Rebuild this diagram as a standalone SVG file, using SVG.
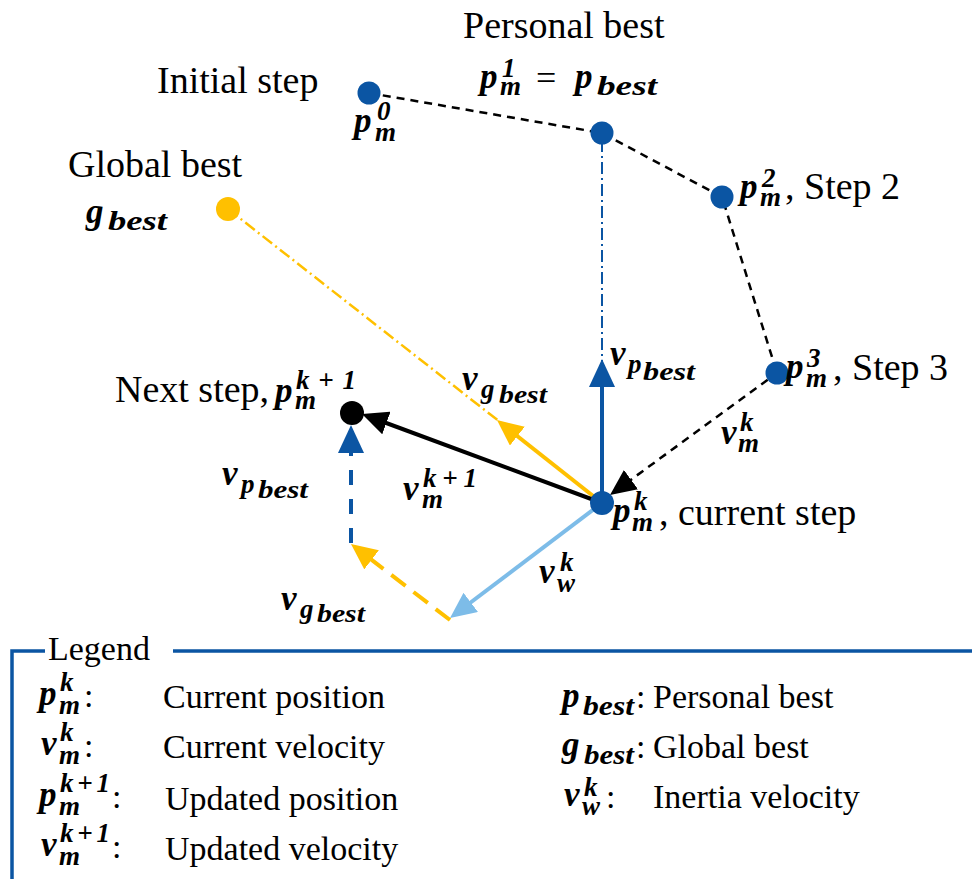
<svg xmlns="http://www.w3.org/2000/svg" width="972" height="879" viewBox="0 0 972 879">
  <style>
    .lbl { font-family: "Liberation Serif", "Times New Roman", serif; font-size: 38px; fill: #000; }
    .leg { font-family: "Liberation Serif", "Times New Roman", serif; font-size: 34px; fill: #000; }
    .mv { font-family: "Liberation Serif", "Times New Roman", serif; font-style: italic; font-weight: bold; font-size: 35px; fill: #000; }
    .ms { font-family: "Liberation Serif", "Times New Roman", serif; font-style: italic; font-weight: bold; font-size: 27px; fill: #000; }
    .mss { font-family: "Liberation Serif", "Times New Roman", serif; font-style: italic; font-weight: bold; font-size: 25px; fill: #000; }
    .meq { font-family: "Liberation Serif", "Times New Roman", serif; font-size: 36px; fill: #000; }
    .dot-blue { fill: #0B55A3; }
    .dot-gold { fill: #FFC000; }
    .dot-black { fill: #000; }
    .path-step { fill: none; stroke: #000; stroke-width: 2.5; stroke-dasharray: 8 6; }
    .guide-blue { fill: none; stroke: #0B55A3; stroke-width: 2; stroke-dasharray: 12 4 2 4; }
    .guide-gold { fill: none; stroke: #FFC000; stroke-width: 2.5; stroke-dasharray: 12 4 2 4; }
    .vec { fill: none; stroke-width: 4; }
    .blue { stroke: #0B55A3; }
    .gold { stroke: #FFC000; }
    .black { stroke: #000; }
    .light { stroke: #7DBCE8; }
    .frame { fill: none; stroke: #0B55A3; stroke-width: 3.5; }
  </style>
  <defs>
    <marker id="ah-blue" markerUnits="userSpaceOnUse" markerWidth="28" markerHeight="26" refX="18" refY="13" orient="auto">
      <path d="M0,0 L28,13 L0,26 z" fill="#0B55A3"/>
    </marker>
    <marker id="ah-gold" markerUnits="userSpaceOnUse" markerWidth="26" markerHeight="24" refX="16" refY="12" orient="auto">
      <path d="M0,0 L26,12 L0,24 z" fill="#FFC000"/>
    </marker>
    <marker id="ah-black" markerUnits="userSpaceOnUse" markerWidth="26" markerHeight="24" refX="16" refY="12" orient="auto">
      <path d="M0,0 L26,12 L0,24 z" fill="#000"/>
    </marker>
    <marker id="ah-light" markerUnits="userSpaceOnUse" markerWidth="26" markerHeight="24" refX="16" refY="12" orient="auto">
      <path d="M0,0 L26,12 L0,24 z" fill="#7DBCE8"/>
    </marker>
  </defs>

  <rect width="972" height="879" fill="#fff"/>

  <!-- connectors: trajectory, guide lines and velocity vectors -->
  <g id="connectors">
    <polyline class="path-step" points="369,93 602,133 722,197 777,373"/>
    <line class="guide-blue" x1="602" y1="140" x2="602" y2="362"/>
    <line class="guide-gold" x1="228" y1="209" x2="500" y2="422"/>
    <line class="vec blue" x1="602" y1="503" x2="602" y2="369" marker-end="url(#ah-blue)"/>
    <line class="vec gold" x1="602" y1="503" x2="504.8" y2="426.2" marker-end="url(#ah-gold)"/>
    <line class="vec black" x1="602" y1="503" x2="371.4" y2="417.5" marker-end="url(#ah-black)"/>
    <line class="black" stroke-width="2.5" stroke-dasharray="8 6" x1="767.7" y1="379.8" x2="618.1" y2="489.1" marker-end="url(#ah-black)"/>
    <line class="vec light" x1="602" y1="503" x2="458" y2="612" marker-end="url(#ah-light)"/>
    <line class="vec gold" stroke-width="4.5" stroke-dasharray="18 10" x1="450" y1="620" x2="358.9" y2="550.1" marker-end="url(#ah-gold)"/>
    <line class="vec blue" stroke-dasharray="15 14" x1="351" y1="543" x2="351" y2="435" marker-end="url(#ah-blue)"/>
  </g>

  <!-- velocity labels -->
  <g id="labels">
    <g id="lbl-vpbest-right">
      <text class="mv" x="610" y="365">v</text><text class="ms" x="628" y="373">p</text><text class="mss" x="643" y="380" textLength="52" lengthAdjust="spacingAndGlyphs">best</text>
    </g>
    <g id="lbl-vgbest-mid">
      <text class="mv" x="462" y="390">v</text><text class="ms" x="481" y="398">g</text><text class="mss" x="499" y="403" textLength="48" lengthAdjust="spacingAndGlyphs">best</text>
    </g>
    <g id="lbl-vmk">
      <text class="mv" x="721" y="444">v</text><text class="ms" x="740" y="431">k</text><text class="ms" x="738" y="452">m</text>
    </g>
    <g id="lbl-vmk1">
      <text class="mv" x="403" y="500">v</text><text class="ms" x="423" y="487" textLength="54" lengthAdjust="spacing">k+1</text><text class="ms" x="422" y="508">m</text>
    </g>
    <g id="lbl-vpbest-left">
      <text class="mv" x="222" y="485">v</text><text class="ms" x="241" y="493">p</text><text class="mss" x="258" y="498" textLength="50" lengthAdjust="spacingAndGlyphs">best</text>
    </g>
    <g id="lbl-vwk">
      <text class="mv" x="539" y="583">v</text><text class="ms" x="560" y="571">k</text><text class="ms" x="557" y="592">w</text>
    </g>
    <g id="lbl-vgbest-bottom">
      <text class="mv" x="281" y="610">v</text><text class="ms" x="300" y="618">g</text><text class="mss" x="317" y="622" textLength="48" lengthAdjust="spacingAndGlyphs">best</text>
    </g>
  </g>

  <!-- positions -->
  <g id="node-p0">
    <circle class="dot-blue" cx="369" cy="93" r="11.5"/>
    <text class="lbl" x="157" y="93">Initial step</text>
    <text class="mv" x="354" y="132">p</text><text class="ms" x="377" y="120">0</text><text class="ms" x="375" y="141">m</text>
  </g>
  <g id="node-p1">
    <circle class="dot-blue" cx="602" cy="133" r="11.5"/>
    <text class="lbl" x="463" y="38">Personal best</text>
    <text class="mv" x="480" y="88">p</text><text class="ms" x="502" y="77">1</text><text class="ms" x="500" y="95">m</text>
    <text class="meq" x="536" y="90">=</text>
    <text class="mv" x="575" y="88">p</text><text class="ms" x="597" y="95" textLength="60" lengthAdjust="spacingAndGlyphs">best</text>
  </g>
  <g id="node-p2">
    <circle class="dot-blue" cx="722" cy="197" r="11.5"/>
    <text class="mv" x="740" y="198">p</text><text class="ms" x="762" y="187">2</text><text class="ms" x="760" y="206">m</text>
    <text class="lbl" x="785" y="199">, Step 2</text>
  </g>
  <g id="node-p3">
    <circle class="dot-blue" cx="777" cy="373" r="11.5"/>
    <text class="mv" x="786" y="378">p</text><text class="ms" x="807" y="367">3</text><text class="ms" x="806" y="387">m</text>
    <text class="lbl" x="833" y="380">, Step 3</text>
  </g>
  <g id="node-gbest">
    <circle class="dot-gold" cx="228" cy="209" r="12"/>
    <text class="lbl" x="68" y="177">Global best</text>
    <text class="mv" x="86" y="223">g</text><text class="ms" x="108" y="230" textLength="59" lengthAdjust="spacingAndGlyphs">best</text>
  </g>
  <g id="node-pk">
    <circle class="dot-blue" cx="602" cy="503" r="12"/>
    <text class="mv" x="613" y="522">p</text><text class="ms" x="634" y="510">k</text><text class="ms" x="632" y="531">m</text>
    <text class="lbl" x="659" y="525">, current step</text>
  </g>
  <g id="node-next">
    <circle class="dot-black" cx="352" cy="413" r="12"/>
    <text class="lbl" x="115" y="402">Next step,</text>
    <text class="mv" x="275" y="402">p</text><text class="ms" x="296" y="389" textLength="60" lengthAdjust="spacing">k+1</text><text class="ms" x="295" y="409">m</text>
  </g>

  <!-- legend -->
  <g id="legend">
    <path class="frame" d="M45,651 H12 V879 M173,651 H972"/>
    <text class="leg" x="48" y="660">Legend</text>

    <text class="mv" x="39" y="705">p</text><text class="ms" x="60" y="691">k</text><text class="ms" x="59" y="714">m</text>
    <text class="leg" x="84" y="707">:</text>
    <text class="leg" x="163" y="708">Current position</text>

    <text class="mv" x="41" y="755">v</text><text class="ms" x="60" y="741">k</text><text class="ms" x="59" y="764">m</text>
    <text class="leg" x="84" y="757">:</text>
    <text class="leg" x="163" y="758">Current velocity</text>

    <text class="mv" x="39" y="806">p</text><text class="ms" x="60" y="792" textLength="50" lengthAdjust="spacing">k+1</text><text class="ms" x="59" y="815">m</text>
    <text class="leg" x="112" y="808">:</text>
    <text class="leg" x="165" y="810">Updated position</text>

    <text class="mv" x="41" y="856">v</text><text class="ms" x="60" y="842" textLength="50" lengthAdjust="spacing">k+1</text><text class="ms" x="59" y="865">m</text>
    <text class="leg" x="112" y="858">:</text>
    <text class="leg" x="165" y="860">Updated velocity</text>

    <text class="mv" x="562" y="707">p</text><text class="ms" x="583" y="715" textLength="51" lengthAdjust="spacingAndGlyphs">best</text>
    <text class="leg" x="636" y="708">:</text>
    <text class="leg" x="653" y="708">Personal best</text>

    <text class="mv" x="562" y="756">g</text><text class="ms" x="584" y="764" textLength="50" lengthAdjust="spacingAndGlyphs">best</text>
    <text class="leg" x="636" y="758">:</text>
    <text class="leg" x="653" y="758">Global best</text>

    <text class="mv" x="564" y="806">v</text><text class="ms" x="584" y="796">k</text><text class="ms" x="582" y="815">w</text>
    <text class="leg" x="606" y="808">:</text>
    <text class="leg" x="653" y="808">Inertia velocity</text>
  </g>
</svg>
